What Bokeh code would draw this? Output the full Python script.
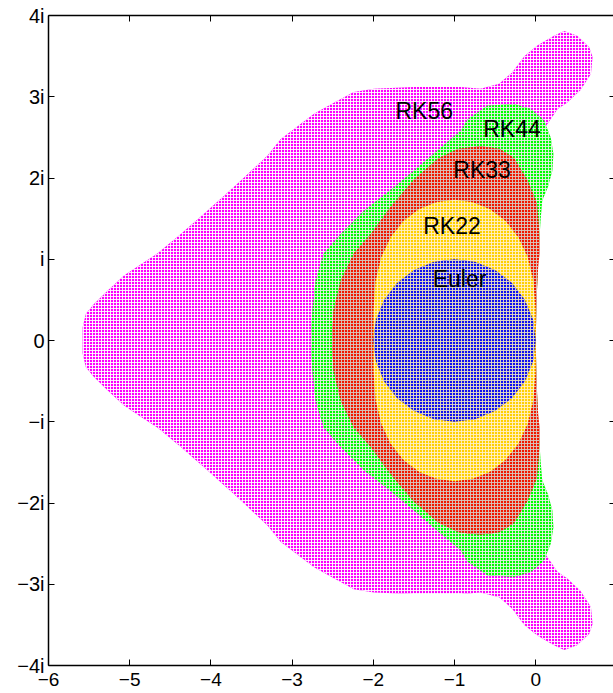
from bokeh.plotting import figure
from bokeh.models import Range1d, FixedTicker, LinearAxis
from bokeh.core.properties import value
from bokeh.embed import file_html
from bokeh.resources import INLINE

# ---- tick data ----
x_ticks = [-6, -5, -4, -3, -2, -1, 0, 1]
x_tick_labels = ["\u22126", "\u22125", "\u22124", "\u22123", "\u22122", "\u22121", "0", "1"]
y_ticks = [-4, -3, -2, -1, 0, 1, 2, 3, 4]
y_tick_labels = ["\u22124i", "\u22123i", "\u22122i", "\u2212i", "0", "i", "2i", "3i", "4i"]

# ---- stability-region boundaries (upper half; regions are symmetric) ----
rk56_x = [0.0, 0.0, 0.02, 0.10, 0.27, 0.39, 0.55, 0.68, 0.70, 0.66, 0.51, 0.35, 0.225, 0.02, -0.14,
          -0.29, -0.45, -0.68, -0.92, -1.50, -1.99, -2.24, -2.48, -2.73, -2.98, -3.14, -3.30, -3.63,
          -4.04, -4.37, -4.66, -4.86, -5.07, -5.27, -5.44, -5.54, -5.58, -5.58]
rk56_y = [0.0, 1.0, 2.0, 2.60, 2.85, 2.93, 3.08, 3.28, 3.49, 3.61, 3.75, 3.81, 3.75, 3.63, 3.50,
          3.30, 3.16, 3.10, 3.12, 3.12, 3.10, 3.06, 2.93, 2.79, 2.60, 2.48, 2.28, 1.97,
          1.60, 1.31, 1.07, 0.94, 0.80, 0.615, 0.45, 0.33, 0.16, 0.0]

rk44_x = [0.0, 0.01, 0.03, 0.06, 0.08, 0.15, 0.205, 0.218, 0.185, 0.10, -0.06, -0.27, -0.595, -0.84,
          -0.92, -1.21, -1.50, -1.79, -2.11, -2.40, -2.61, -2.71, -2.75, -2.77]
rk44_y = [0.0, 0.5, 1.0, 1.48, 1.72, 1.89, 2.09, 2.30, 2.50, 2.71, 2.85, 2.91, 2.89, 2.72,
          2.585, 2.34, 2.09, 1.85, 1.60, 1.31, 1.07, 0.74, 0.37, 0.0]

rk33_x = [0.0, 0.01, 0.03, 0.05, 0.04, 0.02, 0.0, -0.10, -0.27, -0.45, -0.68, -0.95, -1.20, -1.50,
          -1.79, -2.03, -2.24, -2.40, -2.49, -2.51]
rk33_y = [0.0, 0.5, 0.9, 1.1, 1.4, 1.65, 1.73, 1.97, 2.25, 2.36, 2.39, 2.36, 2.24, 1.98,
          1.64, 1.31, 1.07, 0.74, 0.37, 0.0]

rk22_x = [0.0, -0.003, -0.028, -0.098, -0.214, -0.372, -0.562, -0.775, -1.0, -1.225, -1.438, -1.628,
          -1.786, -1.902, -1.972, -1.997, -2.0]
rk22_y = [0.0, 0.384, 0.728, 1.024, 1.272, 1.470, 1.614, 1.702, 1.732, 1.702, 1.614, 1.470,
          1.272, 1.024, 0.728, 0.384, 0.0]

euler_x = [0.0, -0.034, -0.134, -0.293, -0.5, -0.741, -1.0, -1.259, -1.5, -1.707, -1.866, -1.966, -2.0]
euler_y = [0.0, 0.259, 0.5, 0.707, 0.866, 0.966, 1.0, 0.966, 0.866, 0.707, 0.5, 0.259, 0.0]

region_names = ["RK56", "RK44", "RK33", "RK22", "Euler"]
region_colors = ["#ff00ff", "#00ff00", "#f01800", "#ffd000", "#1010f0"]
hatch_colors = ["#ffffff", "#e8f0e8", "#d8c8c0", "#fff0c8", "#e8e0c0"]
label_x = [-1.373, -0.292, -0.661, -1.031, -0.938]
label_y = [2.83, 2.60, 2.095, 1.41, 0.76]


def closed(xu, yu):
    xs = list(xu) + list(xu[::-1])[1:-1]
    ys = list(yu) + [-v for v in yu[::-1]][1:-1]
    return xs, ys


boundaries = [closed(rk56_x, rk56_y), closed(rk44_x, rk44_y), closed(rk33_x, rk33_y),
              closed(rk22_x, rk22_y), closed(euler_x, euler_y)]

p = figure(width=613, height=693, x_range=Range1d(-6, 0.958), y_range=Range1d(-4, 4),
           output_backend="svg", toolbar_location=None,
           min_border_left=48, min_border_right=0, min_border_top=15, min_border_bottom=28)
p.grid.visible = False
p.outline_line_color = None
p.background_fill_color = "white"
p.border_fill_color = "white"

for (xs, ys), col, hcol in zip(boundaries, region_colors, hatch_colors):
    p.patch(xs, ys, fill_color=col, fill_alpha=1.0, line_color=None,
            hatch_pattern="+", hatch_color=hcol, hatch_scale=3, hatch_weight=1, hatch_alpha=0.9)

p.text(x=label_x, y=label_y, text=region_names, text_align="center", text_baseline="middle",
       text_font=value("Liberation Sans"), text_font_size="23px", text_color="black")

font = "Liberation Sans"
xa = p.xaxis[0]
xa.ticker = FixedTicker(ticks=x_ticks)
xa.major_label_overrides = dict(zip(x_ticks, x_tick_labels))
ya = p.yaxis[0]
ya.ticker = FixedTicker(ticks=y_ticks)
ya.major_label_overrides = dict(zip(y_ticks, y_tick_labels))
for ax in (xa, ya):
    ax.major_tick_in = 6
    ax.major_tick_out = 0
    ax.minor_tick_line_color = None
    ax.axis_line_width = 1.5
    ax.major_tick_line_width = 1
    ax.major_label_text_font = font
    ax.major_label_text_color = "black"
    ax.axis_line_color = "black"
    ax.major_tick_line_color = "black"
xa.major_label_text_font_size = "19px"
ya.major_label_text_font_size = "20px"
xa.major_label_standoff = 7
ya.major_label_standoff = 4

top = LinearAxis(ticker=FixedTicker(ticks=x_ticks),
                 major_label_overrides={t: "" for t in x_ticks},
                 major_label_standoff=0, major_tick_in=6, major_tick_out=0,
                 minor_tick_line_color=None, axis_line_width=1.5, axis_line_color="black")
p.add_layout(top, "above")

right = LinearAxis(ticker=FixedTicker(ticks=y_ticks),
                   major_label_overrides={t: "" for t in y_ticks},
                   major_label_standoff=0, major_tick_in=4, major_tick_out=0,
                   minor_tick_line_color=None, axis_line_color=None)
p.add_layout(right, "right")

open("out.html", "w").write(file_html(p, INLINE))
